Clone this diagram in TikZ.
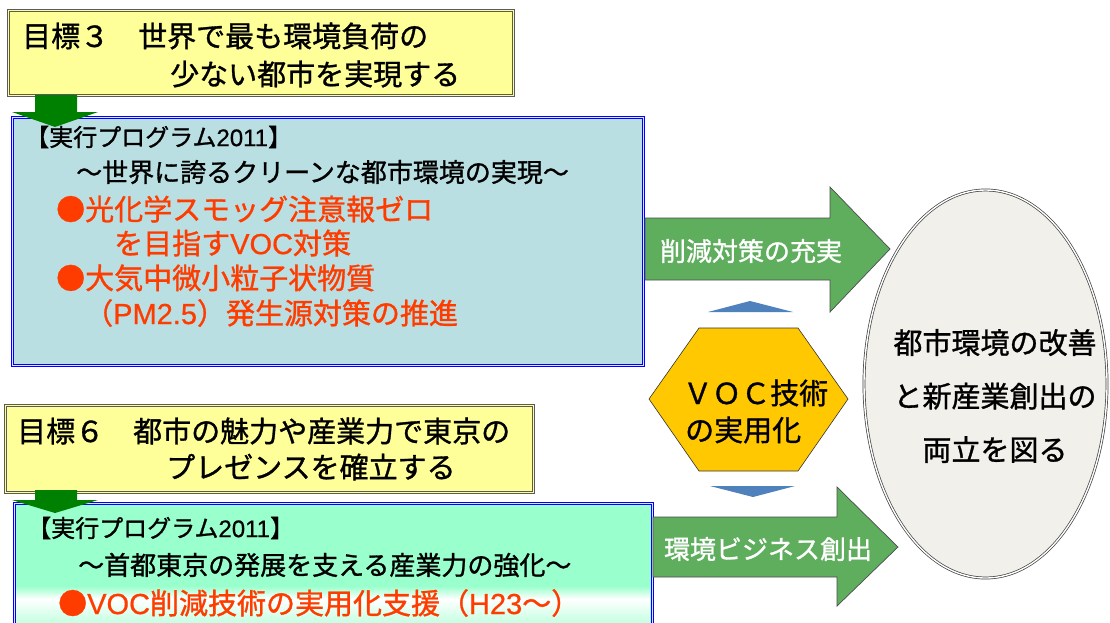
\documentclass[tikz,border=0pt]{standalone}
\usepackage{fontspec}
\setmainfont{Noto Sans CJK JP}[FakeBold=1.1]
\newfontfamily\lat{Liberation Sans}[FakeBold=0.6]
\usetikzlibrary{shapes.geometric}
\definecolor{yelfill}{RGB}{255,255,153}
\definecolor{yeldraw}{RGB}{90,90,90}
\definecolor{bluefill}{RGB}{186,223,227}
\definecolor{mintfill}{RGB}{153,255,204}
\definecolor{redtxt}{RGB}{255,60,0}
\definecolor{arrgreen}{RGB}{94,174,94}
\definecolor{darkgreen}{RGB}{0,128,0}
\definecolor{hexfill}{RGB}{255,200,0}
\definecolor{trifill}{RGB}{79,129,189}
\definecolor{ellfill}{RGB}{242,240,234}
\newcommand{\fs}[1]{\fontsize{#1}{#1}\selectfont}
\begin{document}
\begin{tikzpicture}[x=1pt,y=-1pt,
  ybox/.style={draw=yeldraw, line width=0.8pt, double=yelfill, double distance=1.6pt, fill=yelfill, inner sep=0, anchor=north west},
  bbox/.style={draw=blue, line width=0.9pt, double=blue!12!white, double distance=1.4pt, inner sep=0, anchor=north west},
  txt/.style={inner sep=0, anchor=west},
  redt/.style={txt, text=redtxt},
  downarr/.style={fill=darkgreen},
  rarr/.style={fill=arrgreen, draw=black!70, line width=0.7pt},
  tri/.style={fill=trifill}
]
\useasboundingbox (0,0) rectangle (1110,622);
\clip (0,0) rectangle (1110,622);
\fill[white] (0,0) rectangle (1110,622);

% ---------- top goal box ----------
\node[ybox, minimum width=505pt, minimum height=85pt] (goal3) at (8,10) {};
\node[txt] (goal3a) at (22,36) {\fs{29}目標３　世界で最も環境負荷の};
\node[txt] (goal3b) at (170,74) {\fs{29}少ない都市を実現する};

% ---------- blue program box ----------
\node[bbox, fill=bluefill, minimum width=631pt, minimum height=248pt] (prog1) at (12,117) {};
\node[txt] (p1a) at (25,137) {\fs{24}【実行プログラム{\lat 2011}】};
\node[txt] (p1b) at (76,172) {\fs{26}～世界に誇るクリーンな都市環境の実現～};
\node[redt] (p1c) at (56,209) {\fs{29}●光化学スモッグ注意報ゼロ};
\node[redt] (p1d) at (114,243) {\fs{29}を目指す{\lat VOC}対策};
\node[redt] (p1e) at (56,278) {\fs{29}●大気中微小粒子状物質};
\node[redt] (p1f) at (84,313) {\fs{29}（{\lat PM2.5}）発生源対策の推進};

% down arrow 1
\fill[downarr] (35,95) -- (77,95) -- (77,112) -- (98,112) -- (55,127) -- (12,112) -- (35,112) -- cycle;

% ---------- bottom goal box ----------
\node[ybox, minimum width=528pt, minimum height=87pt] (goal6) at (5,405) {};
\node[txt] (goal6a) at (17,431) {\fs{29}目標６　都市の魅力や産業力で東京の};
\node[txt] (goal6b) at (166,467) {\fs{29}プレゼンスを確立する};

% ---------- mint program box ----------
\node[bbox, fill=mintfill, minimum width=638pt, minimum height=130pt] (prog2) at (14,503) {};
\shade[top color=mintfill, bottom color=white] (16,586) rectangle (650,599);
\shade[top color=white, bottom color=mintfill!55!white] (16,599) rectangle (650,622);
\node[txt] (p2a) at (27,528) {\fs{24}【実行プログラム{\lat 2011}】};
\node[txt] (p2b) at (78,565) {\fs{26}～首都東京の発展を支える産業力の強化～};
\node[redt] (p2c) at (58,603) {\fs{29}●{\lat VOC}削減技術の実用化支援（{\lat H23}～）};

% down arrow 2
\fill[downarr] (35,490) -- (77,490) -- (77,500) -- (98,500) -- (55,513) -- (12,500) -- (35,500) -- cycle;

% ---------- right arrows ----------
\path[rarr] (645,218) -- (830,218) -- (830,187) -- (890,249) -- (830,312) -- (830,280) -- (645,280) -- cycle;
\node[inner sep=0, text=white] (arr1) at (751,251) {\fs{26}削減対策の充実};
\path[rarr] (653,517) -- (837,517) -- (837,487) -- (898,547) -- (837,606) -- (837,577) -- (653,577) -- cycle;
\node[inner sep=0, text=white] (arr2) at (768,549) {\fs{26}環境ビジネス創出};

% ---------- hexagon ----------
\path[fill=hexfill, draw=black!80, line width=0.6pt] (649,399) -- (699,328) -- (798,328) -- (848,399) -- (798,471) -- (699,471) -- cycle;
\node[txt] (hexa) at (683,393) {\fs{29}ＶＯＣ技術};
\node[txt] (hexb) at (685,430) {\fs{29}の実用化};

% triangles
\fill[tri] (708,312) -- (750,301) -- (793,312) -- cycle;
\fill[tri] (710,486) -- (795,486) -- (753,497) -- cycle;

% ---------- ellipse ----------
\node[ellipse, draw=black!75, line width=0.7pt, double=white, double distance=1.4pt, fill=ellfill,
      minimum width=243pt, minimum height=388pt, inner sep=0] (goal) at (985.5,384) {};
\node[inner sep=0, align=center, font=\fontsize{29}{53.5}\selectfont] (goaltxt) at (995,396)
  {都市環境の改善\\と新産業創出の\\両立を図る};
\end{tikzpicture}
\end{document}
